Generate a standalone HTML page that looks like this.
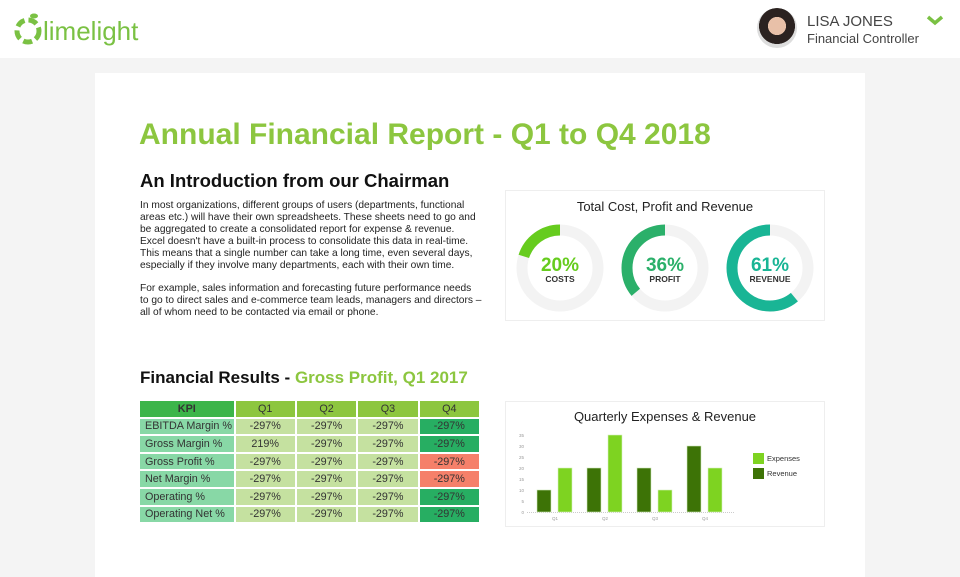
<!DOCTYPE html>
<html><head><meta charset="utf-8"><style>
body{margin:0;width:960px;height:577px;overflow:hidden;background:#f4f4f4;font-family:"Liberation Sans",sans-serif;position:relative}
.abs{position:absolute}
table{border-collapse:separate;border-spacing:2px;font-size:10.8px;color:#333;table-layout:fixed}
td{height:15.6px;text-align:center;padding:0;white-space:nowrap;overflow:hidden}
</style></head><body>
<div class="abs" style="left:0;top:0;width:960px;height:58px;background:#fff"></div>
<div class="abs" style="left:12px;top:11px;">
<svg width="140" height="36"><circle cx="16" cy="20" r="11" fill="none" stroke="#7ac143" stroke-width="5" stroke-dasharray="9 4"/><ellipse cx="22" cy="5" rx="4" ry="2.5" fill="#7ac143"/>
<text x="31" y="29" font-family="Liberation Sans" font-size="26" fill="#7ac143">limelight</text></svg></div>
<div class="abs" style="left:757px;top:8px;width:40px;height:40px;border-radius:50%;background:radial-gradient(circle at 50% 45%,#e8c0a8 0 30%,#2b2220 31% 60%,#ddd 61%)"></div>
<div class="abs" style="left:807px;top:13px;font-size:15px;color:#444">LISA JONES</div>
<div class="abs" style="left:807px;top:31px;font-size:13px;color:#444">Financial Controller</div>
<div class="abs" style="left:926px;top:13px"><svg width="18" height="12"><path d="M2 3 L9 9 L16 3" stroke="#7ac143" stroke-width="3.5" fill="none"/></svg></div>

<div class="abs" style="left:95px;top:73px;width:770px;height:504px;background:#fff"></div>
<div class="abs" style="left:139px;top:118px;font-size:30px;font-weight:bold;color:#8cc63f">Annual Financial Report - Q1 to Q4 2018</div>
<div class="abs" style="left:140px;top:170px;font-size:18.5px;font-weight:bold;color:#111">An Introduction from our Chairman</div>
<div class="abs" style="left:140px;top:200px;width:342px;font-size:10.2px;line-height:11.9px;color:#222">In most organizations, different groups of users (departments, functional areas etc.) will have their own spreadsheets. These sheets need to go and be aggregated to create a consolidated report for expense &amp; revenue. Excel doesn't have a built-in process to consolidate this data in real-time. This means that a single number can take a long time, even several days, especially if they involve many departments, each with their own time.<br><br>For example, sales information and forecasting future performance needs to go to direct sales and e-commerce team leads, managers and directors – all of whom need to be contacted via email or phone.</div>

<div class="abs" style="left:505px;top:190px;width:318px;height:129px;border:1px solid #eee"></div>
<div class="abs" style="left:505px;top:199px;width:320px;text-align:center;font-size:13px;color:#222">Total Cost, Profit and Revenue</div>
<svg class="abs" style="left:505px;top:190px" width="320" height="130" id="donuts"></svg>

<div class="abs" style="left:140px;top:368px;font-size:17px;font-weight:bold;color:#111">Financial Results - <span style="color:#8cc63f">Gross Profit, Q1 2017</span></div>
<table class="abs" style="left:138px;top:399px;width:343px" id="kpi"></table>

<div class="abs" style="left:505px;top:401px;width:318px;height:124px;border:1px solid #eee"></div>
<div class="abs" style="left:505px;top:409px;width:320px;text-align:center;font-size:13px;color:#222">Quarterly Expenses &amp; Revenue</div>
<svg class="abs" style="left:505px;top:401px" width="320" height="125" id="bars"></svg>

<script>
const NS='http://www.w3.org/2000/svg';
function mk(p,t,a){const e=document.createElementNS(NS,t);for(const k in a)e.setAttribute(k,a[k]);p.appendChild(e);return e;}
// donuts
const donutLabels=['COSTS','PROFIT','REVENUE'];
const donutValues=[20,36,61];
const donutColors=['#66cc1e','#2bb06a','#19b595'];
const dsv=document.getElementById('donuts');
donutValues.forEach((v,i)=>{
 const cx=55+i*105, cy=78, r=38, w=11;
 const c=2*Math.PI*r;
 const bg=mk(dsv,'circle',{cx,cy,r,fill:'none',stroke:'#f3f3f3','stroke-width':w});
 
 
 const arc=mk(dsv,'circle',{cx,cy,r,fill:'none',stroke:donutColors[i],'stroke-width':w,'stroke-dasharray':(c*v/100)+' '+c});
 arc.setAttribute('transform',`translate(${2*cx} 0) scale(-1 1) rotate(-90 ${cx} ${cy})`);
 
 
 const t=mk(dsv,'text',{x:cx,y:cy+3,'text-anchor':'middle','font-size':19,'font-weight':'bold',fill:donutColors[i]});
 t.textContent=v+'%';
 
 
 const l=mk(dsv,'text',{x:cx,y:cy+14,'text-anchor':'middle','font-size':8.5,'font-weight':'bold',fill:'#333'});
 l.textContent=donutLabels[i];
 
 
});
// table
const kpiHeaders=['KPI','Q1','Q2','Q3','Q4'];
const kpiRows=['EBITDA Margin %','Gross Margin %','Gross Profit %','Net Margin %','Operating %','Operating Net %'];
const kpiValues=[['-297%','-297%','-297%','-297%'],['219%','-297%','-297%','-297%'],['-297%','-297%','-297%','-297%'],['-297%','-297%','-297%','-297%'],['-297%','-297%','-297%','-297%'],['-297%','-297%','-297%','-297%']];
const q4Status=['good','good','bad','bad','good','good'];
const tb=document.getElementById('kpi');
let tr=document.createElement('tr');tb.appendChild(tr);
kpiHeaders.forEach((h,i)=>{const td=document.createElement('td');td.textContent=h;td.style.background=i?'#8dc63f':'#3cb54a';td.style.fontWeight=i?'normal':'bold';td.style.width=i?'59px':'93px';


tr.appendChild(td);});
kpiRows.forEach((r,ri)=>{tr=document.createElement('tr');tb.appendChild(tr);
 const th=document.createElement('td');th.textContent=r;th.style.background='#88d8a6';th.style.textAlign='left';th.style.paddingLeft='5px';
 
 
 tr.appendChild(th);
 kpiValues[ri].forEach((v,ci)=>{const td=document.createElement('td');td.textContent=v;
  td.style.background=ci<3?'#c5e1a0':(q4Status[ri]==='good'?'#27ae62':'#f5806a');
  
  
  tr.appendChild(td);});
});
// bars
const quarters=['Q1','Q2','Q3','Q4'];
const expenses=[20,35,10,20];
const revenue=[10,20,20,30];
const yTicks=[0,5,10,15,20,25,30,35];
const bsv=document.getElementById('bars');
const y0=111, yTop=34, yMax=35;
const ys=v=>y0-(y0-yTop)*v/yMax;
const xs=i=>50+i*50;
yTicks.forEach(t=>{const e=mk(bsv,'text',{x:19,y:ys(t)+2,'text-anchor':'end','font-size':4.5,fill:'#999'});e.textContent=t;
 
 });
const ax=mk(bsv,'line',{x1:22,x2:230,y1:y0+0.5,y2:y0+0.5,stroke:'#ccc','stroke-dasharray':'1 1'});


quarters.forEach((q,i)=>{
 const r=mk(bsv,'rect',{x:xs(i)-18,y:ys(revenue[i]),width:14,height:y0-ys(revenue[i]),fill:'#3d7306',stroke:'#cfe6b8','stroke-width':0.6});
 
 
 const e=mk(bsv,'rect',{x:xs(i)+3,y:ys(expenses[i]),width:14,height:y0-ys(expenses[i]),fill:'#7ed321',stroke:'#d8f0c0','stroke-width':0.6});
 
 
 const t=mk(bsv,'text',{x:xs(i),y:y0+8,'text-anchor':'middle','font-size':4.5,fill:'#999'});t.textContent=q;
 
 
});
[['Expenses','#7ed321',52],['Revenue','#3d7306',67]].forEach(([n,c,y])=>{
 const s=mk(bsv,'rect',{x:248,y,width:11,height:11,fill:c});
 
 
 const t=mk(bsv,'text',{x:262,y:y+8,'font-size':7.5,fill:'#333'});t.textContent=n;
 
 
});
</script>
</body></html>
